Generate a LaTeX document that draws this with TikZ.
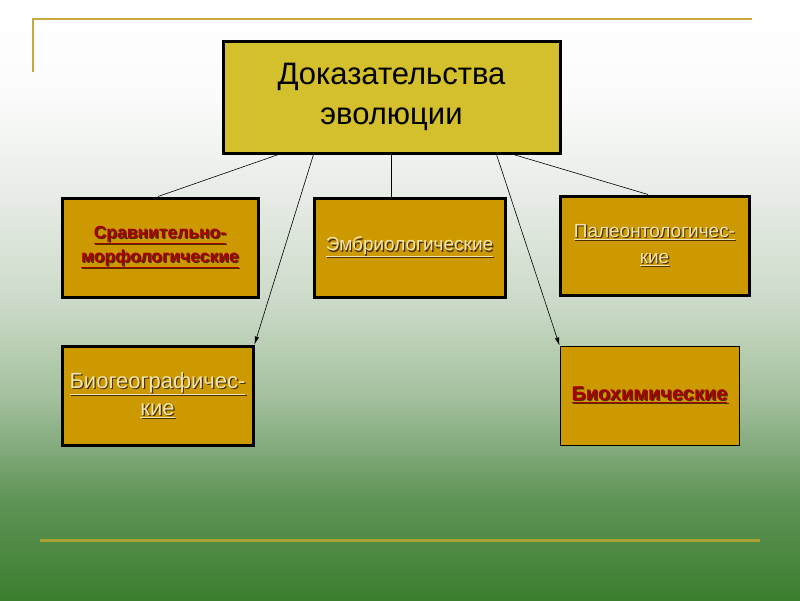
\documentclass[tikz,border=0pt]{standalone}
\usepackage{fontspec}
\setmainfont{Liberation Sans}
\usetikzlibrary{calc,arrows.meta}
\definecolor{c0}{HTML}{FFFFFF}
\definecolor{c100}{HTML}{FAFBFA}
\definecolor{c200}{HTML}{E6EBE5}
\definecolor{c300}{HTML}{CCDBC9}
\definecolor{c400}{HTML}{A2BF9C}
\definecolor{c500}{HTML}{5F9457}
\definecolor{c600}{HTML}{3B7E2E}
\definecolor{mainfill}{HTML}{D4C02C}
\definecolor{boxfill}{HTML}{CC9900}
\definecolor{redtxt}{HTML}{A80000}
\definecolor{lighttxt}{HTML}{F2E4B0}
\definecolor{shadowc}{HTML}{4A3000}
\definecolor{goldline}{HTML}{C8A840}
\definecolor{botline}{HTML}{A8A030}
\pgfdeclareverticalshading{bgshade}{100bp}{color(0bp)=(c600); color(25bp)=(c600); color(33.33bp)=(c500); color(41.67bp)=(c400); color(50bp)=(c300); color(58.33bp)=(c200); color(66.67bp)=(c100); color(75bp)=(c0); color(100bp)=(c0)}
\newcommand\shtext[2]{\leavevmode\rlap{\kern1.2pt\raisebox{-1.2pt}{\color{shadowc}\underline{#2}}}{\color{#1}\underline{#2}}}
\tikzset{
  mainbox/.style={draw=black, line width=3pt, fill=mainfill, minimum width=337pt, minimum height=112pt, align=center, inner sep=0pt, font=\fontsize{31}{40}\selectfont},
  subbox/.style={draw=black, line width=3pt, fill=boxfill, minimum height=99pt, align=center, inner sep=0pt},
  conn/.style={draw=black, line width=0.6pt},
  arr/.style={conn, -{Latex[length=8pt,width=4.5pt]}}
}
\begin{document}
\begin{tikzpicture}[x=1pt,y=-1pt]
\shade[shading=bgshade] (0,0) rectangle (800,600);
\useasboundingbox (0,0) rectangle (800,600);
\draw[goldline, line width=2pt] (752,19) -- (33,19) -- (33,72);
\draw[botline, line width=3pt] (40,540) -- (760,540);

\node[mainbox] (main) at (391.5,97) {Доказательства\\эволюции};
\node[subbox, minimum width=196pt, font=\bfseries\fontsize{17.5}{24}\selectfont] (b1) at (160,247.5) {\shtext{redtxt}{Сравнительно-}\\\shtext{redtxt}{морфологические}};
\node[subbox, minimum width=191pt, font=\fontsize{19}{25}\selectfont] (b2) at (409.5,247.5) {\shtext{lighttxt}{Эмбриологические}};
\node[subbox, minimum width=189pt, font=\fontsize{19}{26}\selectfont] (b3) at (654.5,245.5) {\shtext{lighttxt}{Палеонтологичес-}\\\shtext{lighttxt}{кие}};
\node[subbox, minimum width=191pt, font=\fontsize{22}{27}\selectfont] (b4) at (157.5,395.5) {\shtext{lighttxt}{Биогеографичес-}\\\shtext{lighttxt}{кие}};
\node[subbox, line width=1pt, minimum width=179pt, font=\bfseries\fontsize{20}{26}\selectfont] (b5) at (649.5,395.5) {\shtext{redtxt}{Биохимические}};

\coordinate (s1) at ($(main.south west)+(57,0)$);
\coordinate (s2) at ($(main.south west)+(92,0)$);
\coordinate (s3) at ($(main.south west)+(170,0)$);
\coordinate (s4) at ($(main.south west)+(275,0)$);
\coordinate (s5) at ($(main.south west)+(292,0)$);
\coordinate (e1) at ($(b1.north)+(-2,0)$);
\coordinate (e3) at ($(b2.north west)+(79,0)$);
\coordinate (e5) at ($(b3.north)+(-6.5,0)$);

\draw[conn] (s1) -- (e1);
\draw[arr] (s2) -- (b4.north east);
\draw[conn] (s3) -- (e3);
\draw[arr] (s4) -- (b5.north west);
\draw[conn] (s5) -- (e5);
\end{tikzpicture}
\end{document}
